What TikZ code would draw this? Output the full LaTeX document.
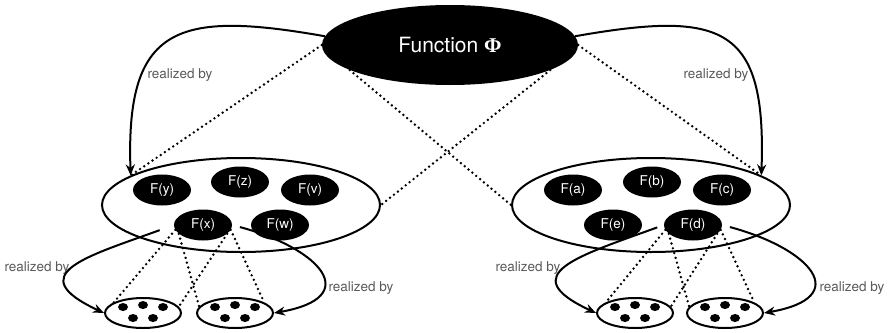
\documentclass[tikz,border=0pt]{standalone}
\usepackage{fontspec}
\setmainfont{TeX Gyre Heros}
\newfontfamily\phifont{Liberation Serif}
\usetikzlibrary{shapes.geometric,arrows.meta}

\begin{document}
\begin{tikzpicture}[x=1pt,y=1pt,
        blob/.style={ellipse,fill=black,text=white,inner sep=0pt,minimum width=58pt,minimum height=31pt,font=\fontsize{13.5}{13.5}\selectfont},
        set/.style={ellipse,draw,line width=2pt,inner sep=0pt,minimum width=278pt,minimum height=94pt},
        pool/.style={ellipse,draw,line width=2pt,inner sep=0pt,minimum width=76pt,minimum height=30pt},
        realize/.style={line width=2pt,-{Stealth[length=11pt,width=9pt]}},
        dots/.style={line width=2.7pt,line cap=round,dash pattern=on 0pt off 5pt},
        lbl/.style={text=black!65,font=\fontsize{13.5}{13.5}\selectfont}]
        \useasboundingbox (0,0) rectangle (890,-332);
        \node[ellipse,fill=black,text=white,inner sep=0pt,minimum width=256pt,minimum height=80pt,font=\fontsize{21}{21}\selectfont] (Phi) at (450,-45) {Function {\phifont\bfseries Φ}};
		% left set
		\begin{scope}
		\node[set] (L) at (241,-205) {};
		\node[blob] (Fy) at (162,-190) {F(y)};
		\node[blob] (Fz) at (240,-182) {F(z)};
		\node[blob] (Fv) at (310,-190) {F(v)};
		\node[blob] (Fx) at (203,-225) {F(x)};
		\node[blob] (Fw) at (280,-225) {F(w)};
		\node[pool] (s1) at (143,-313) {};
		\node[pool] (s2) at (235,-313) {};
		\end{scope}
		% right set
		\begin{scope}
		\node[set] (R) at (651,-205) {};
		\node[blob] (Fa) at (573,-190) {F(a)};
		\node[blob] (Fb) at (652,-182) {F(b)};
		\node[blob] (Fc) at (722,-190) {F(c)};
		\node[blob] (Fe) at (613,-225) {F(e)};
		\node[blob] (Fd) at (693,-225) {F(d)};
		\node[pool] (s3) at (635,-313) {};
		\node[pool] (s4) at (725,-313) {};
		\end{scope}
		\foreach \p in {s1,s2,s3,s4}
			\foreach \dx/\dy in {-20/6,0/8,20/6,-10/-5,10/-5}
				\fill ([shift={(\dx,\dy)}]\p.center) ellipse [x radius=5pt,y radius=4pt];
		\node[lbl] (t1) at (180,-75) {realized by};
		\node[lbl] (t2) at (716,-75) {realized by};
		\node[lbl] (t3) at (37,-268) {realized by};
		\node[lbl] (t4) at (361,-288) {realized by};
		\node[lbl] (t5) at (528,-268) {realized by};
		\node[lbl] (t6) at (852,-288) {realized by};
		\draw[dots] (Phi.west) -- (L.165);
		\draw[dots] (Phi.346) -- (L.east);
		\draw[dots] (Phi.194) -- (R.west);
		\draw[dots] (Phi.east) -- (R.15);
		\draw[realize] (Phi.176) to[out=170,in=92,distance=150pt] (L.165);
		\draw[realize] (Phi.4) to[out=10,in=88,distance=150pt] (R.15);
		\draw[dots] (Fx.190) -- (s1.160);
		\draw[dots] (Fx.200) -- (s2.170);
		\draw[dots] (Fx.340) -- (s1.10);
		\draw[dots] (Fx.350) -- (s2.20);
		\draw[dots] (Fd.190) -- (s3.160);
		\draw[dots] (Fd.200) -- (s4.170);
		\draw[dots] (Fd.340) -- (s3.10);
		\draw[dots] (Fd.350) -- (s4.20);
		\draw[realize,shorten <=15pt] (Fx.west) to[out=200,in=155,looseness=2.1] (s1.west);
		\draw[realize,shorten <=8pt] (Fx.east) to[out=-15,in=10,looseness=2.4] (s2.east);
		\draw[realize,shorten <=7pt] (Fd.west) to[out=200,in=155,looseness=2.1] (s3.west);
		\draw[realize,shorten <=8pt] (Fd.east) to[out=-15,in=10,looseness=2.4] (s4.east);
\end{tikzpicture}
\end{document}
